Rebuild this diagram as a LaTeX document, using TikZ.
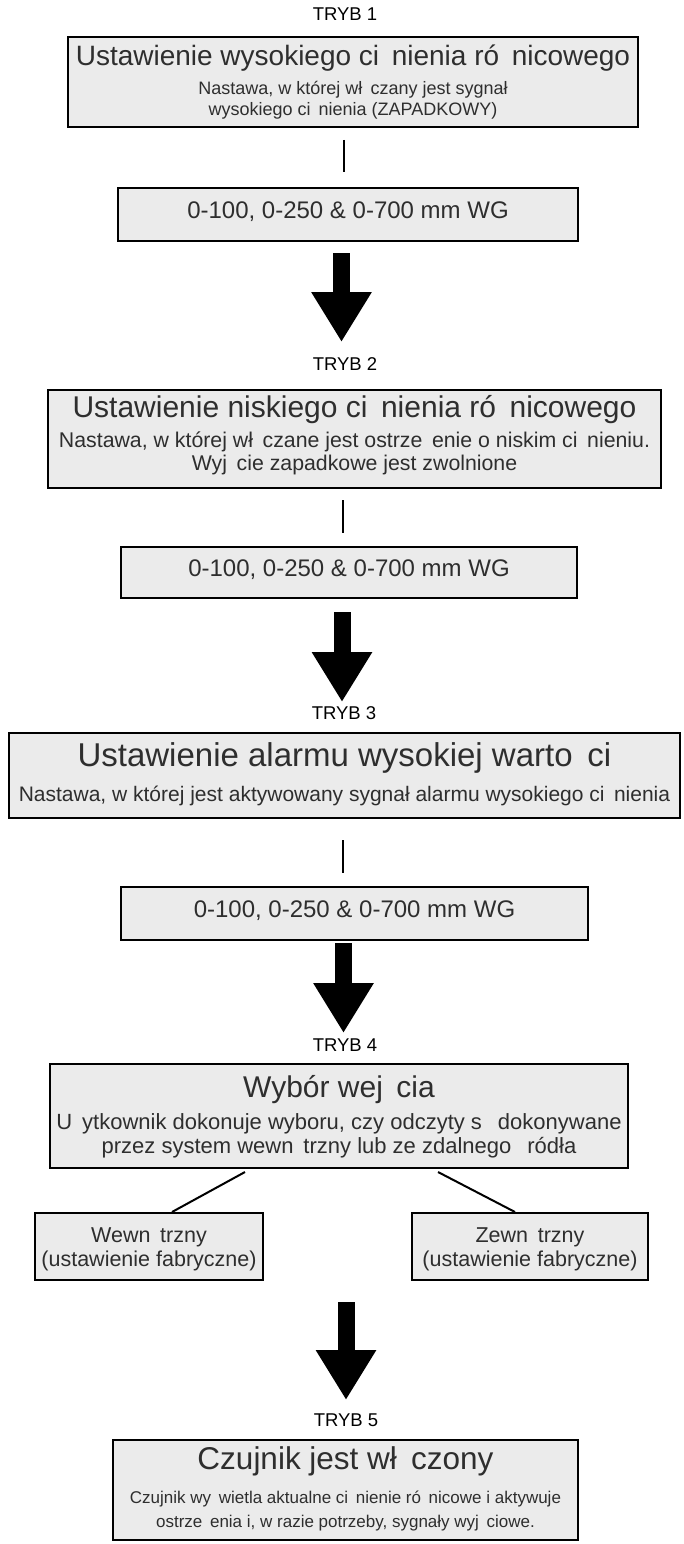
\documentclass[tikz,border=0pt]{standalone}
\usepackage{fontspec}
\setmainfont{Liberation Sans}
\usetikzlibrary{arrows.meta}
\newcommand{\gapc}{\hspace{0.45em}}
\newcommand{\fs}[1]{\fontsize{#1}{#1}\selectfont}
\definecolor{boxfill}{HTML}{EBEBEB}
\definecolor{txt}{HTML}{2E2E2E}
\tikzset{
  box/.style={draw=black, line width=2pt, fill=boxfill, inner sep=0pt, outer sep=0pt},
  lbl/.style={inner sep=0pt, text height=0.72em, text depth=0.21em, anchor=center},
  btxt/.style={lbl, text=txt},
  tryb/.style={lbl, text=black, font=\fs{18.5}},
  conn/.style={draw=black, line width=2pt},
  bigarrow/.style={draw=black, line width=17pt, -{Triangle[width=57pt,length=50pt]}}
}
\begin{document}
\begin{tikzpicture}[x=1pt,y=-1pt]
\useasboundingbox (0,0) rectangle (684,1544);

% ---------- TRYB 1
\node[tryb] (tr1) at (345,18) {TRYB 1};
\node[box, minimum width=570pt, minimum height=90pt] (b1) at (353,82) {};
\node[btxt, font=\fs{28}] (t1) at (353,63) {Ustawienie wysokiego ci\gapc nienia ró\gapc nicowego};
\node[btxt, font=\fs{18}] (s1a) at (353,92) {Nastawa, w której wł\gapc czany jest sygnał};
\node[btxt, font=\fs{18}] (s1b) at (353,113) {wysokiego ci\gapc nienia (ZAPADKOWY)};
\node[box, minimum width=460pt, minimum height=53pt] (r1) at (348,214.5) {};
\node[btxt, font=\fs{24}] (r1t) at (348,216) {0-100, 0-250 \& 0-700 mm WG};
\coordinate (v1) at (344,0);
\draw[conn] ([yshift=-13pt]b1.south -| v1) -- ([yshift=16pt]r1.north -| v1);
\coordinate (a1s) at (341.5,253);
\coordinate (a1e) at (341.5,342);
\draw[bigarrow] (a1s) -- (a1e);

% ---------- TRYB 2
\node[tryb] (tr2) at (345,368) {TRYB 2};
\node[box, minimum width=613pt, minimum height=98pt] (b2) at (354.5,439) {};
\node[btxt, font=\fs{30}] (t2) at (354.5,415) {Ustawienie niskiego ci\gapc nienia ró\gapc nicowego};
\node[btxt, font=\fs{21.3}] (s2a) at (354.5,445) {Nastawa, w której wł\gapc czane jest ostrze\gapc enie o niskim ci\gapc nieniu.};
\node[btxt, font=\fs{21.3}] (s2b) at (354.5,468) {Wyj\gapc cie zapadkowe jest zwolnione};
\node[box, minimum width=456pt, minimum height=51pt] (r2) at (349,572.5) {};
\node[btxt, font=\fs{24}] (r2t) at (349,574) {0-100, 0-250 \& 0-700 mm WG};
\coordinate (v2) at (343,0);
\draw[conn] ([yshift=-12pt]b2.south -| v2) -- ([yshift=14pt]r2.north -| v2);
\coordinate (a2s) at (342,612);
\coordinate (a2e) at (342,702);
\draw[bigarrow] (a2s) -- (a2e);

% ---------- TRYB 3
\node[tryb] (tr3) at (344,717) {TRYB 3};
\node[box, minimum width=671pt, minimum height=85pt] (b3) at (344.5,775.5) {};
\node[btxt, font=\fs{33}] (t3) at (344.5,764) {Ustawienie alarmu wysokiej warto\gapc ci};
\node[btxt, font=\fs{21}] (s3a) at (344.5,799) {Nastawa, w której jest aktywowany sygnał alarmu wysokiego ci\gapc nienia};
\node[box, minimum width=467pt, minimum height=53pt] (r3) at (354.5,913.5) {};
\node[btxt, font=\fs{24}] (r3t) at (354.5,915) {0-100, 0-250 \& 0-700 mm WG};
\coordinate (v3) at (343,0);
\draw[conn] ([yshift=-22pt]b3.south -| v3) -- ([yshift=14pt]r3.north -| v3);
\coordinate (a3s) at (343.5,943);
\coordinate (a3e) at (343.5,1033);
\draw[bigarrow] (a3s) -- (a3e);

% ---------- TRYB 4
\node[tryb] (tr4) at (345,1049) {TRYB 4};
\node[box, minimum width=578pt, minimum height=104pt] (b4) at (339,1116) {};
\node[btxt, font=\fs{30}] (t4) at (339,1095) {Wybór wej\gapc cia};
\node[btxt, font=\fs{22}] (s4a) at (339,1127) {U\gapc ytkownik dokonuje wyboru, czy odczyty s\gapc\ dokonywane};
\node[btxt, font=\fs{22}] (s4b) at (339,1151) {przez system wewn\gapc trzny lub ze zdalnego\gapc\ ródła};
\node[box, minimum width=228pt, minimum height=67pt] (w1) at (149,1246.5) {};
\node[btxt, font=\fs{21.5}] (w1a) at (149,1240) {Wewn\gapc trzny};
\node[btxt, font=\fs{21.5}] (w1b) at (149,1264) {(ustawienie fabryczne)};
\node[box, minimum width=236pt, minimum height=67pt] (w2) at (530,1246.5) {};
\node[btxt, font=\fs{21.5}] (w2a) at (530,1240) {Zewn\gapc trzny};
\node[btxt, font=\fs{21.5}] (w2b) at (530,1264) {(ustawienie fabryczne)};
\draw[conn] ([xshift=-94pt,yshift=-4pt]b4.south) -- ([xshift=23pt,yshift=1pt]w1.north);
\draw[conn] ([xshift=99pt,yshift=-4pt]b4.south) -- ([xshift=-15pt,yshift=1pt]w2.north);
\coordinate (a4s) at (346,1302);
\coordinate (a4e) at (346,1400);
\draw[bigarrow] (a4s) -- (a4e);

% ---------- TRYB 5
\node[tryb] (tr5) at (346,1424) {TRYB 5};
\node[box, minimum width=465pt, minimum height=100pt] (b5) at (345.5,1490) {};
\node[btxt, font=\fs{31.5}] (t5) at (345.5,1467) {Czujnik jest wł\gapc czony};
\node[btxt, font=\fs{17}] (s5a) at (345.5,1501) {Czujnik wy\gapc wietla aktualne ci\gapc nienie ró\gapc nicowe i aktywuje};
\node[btxt, font=\fs{17}] (s5b) at (345.5,1525) {ostrze\gapc enia i, w razie potrzeby, sygnały wyj\gapc ciowe.};
\end{tikzpicture}
\end{document}
